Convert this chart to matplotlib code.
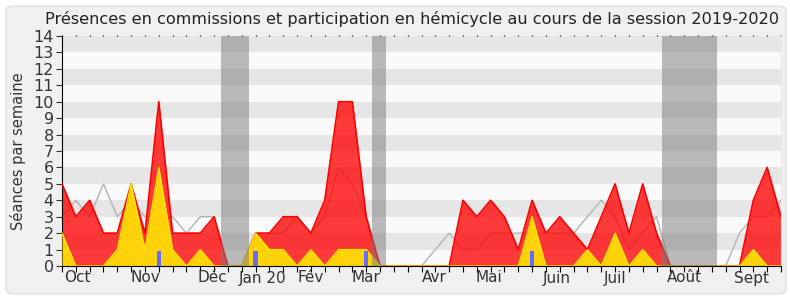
"""
    Présences hebdomadaires d'un député, session 2019-2020
"""

import matplotlib
matplotlib.use('Agg')
import matplotlib.pyplot as plt
from matplotlib.patches import FancyBboxPatch
import numpy as np


# one value per week, 53 weeks from end of Sept 2019
presences = [5, 3, 4, 2, 2, 5, 2, 10, 2, 2, 2, 3, 0, 0, 2, 2, 3, 3, 2, 4,
             10, 10, 3, 0, 0, 0, 0, 0, 0, 4, 3, 4, 3, 1, 4, 2, 3, 2, 1, 3,
             5, 2, 5, 2, 0, 0, 0, 0, 0, 0, 4, 6, 3]
hemicycle = [2, 0, 0, 0, 1, 5, 1, 6, 1, 0, 1, 0, 0, 0, 2, 1, 1, 0, 1, 0,
             1, 1, 1, 0, 0, 0, 0, 0, 0, 0, 0, 0, 0, 0, 3, 0, 0, 0, 1, 0,
             2, 0, 1, 0, 0, 0, 0, 0, 0, 0, 1, 0, 0]
mediane = [3, 4, 3, 5, 3, 4, 3, 3, 3, 2, 3, 3, 0, 0, 2, 2, 2, 3, 2, 3,
           6, 5, 3, 0, 0, 0, 0, 1, 2, 1, 1, 2, 2, 2, 2, 2, 2, 2, 3, 4,
           3, 1, 2, 3, 0, 0, 0, 0, 0, 2, 3, 3, 4]
questions_weeks = [7, 14, 22, 34]
questions_vals = [0.9, 0.9, 0.9, 0.9]

vacances = [(11.5, 13.5), (22.4, 23.4), (43.4, 47.4)]

mois = ['Oct', 'Nov', 'Déc', 'Jan 20', 'Fév', 'Mar', 'Avr', 'Mai',
        'Juin', 'Juil', 'Août', 'Sept']
mois_pos = [1.1, 6.05, 10.85, 14.5, 18.0, 22.0, 26.9, 30.9, 35.8, 40.0, 45.0, 49.9]

TITRE = 'Présences en commissions et participation en hémicycle au cours de la session 2019-2020'

plt.rcParams['font.family'] = ['DejaVu Sans']

weeks = np.arange(len(presences))

fig = plt.figure(figsize=(7.9, 3.0), dpi=100, facecolor='white')
fig.patches.append(FancyBboxPatch((6 / 790, 6 / 300), 780 / 790, 288 / 300,
                                  boxstyle='round,pad=0,rounding_size=0.012',
                                  transform=fig.transFigure, facecolor='#f0f0f0',
                                  edgecolor='#e2e2e2', lw=1, zorder=-10))

ax = fig.add_axes([62 / 790, 1 - 266 / 300, 719 / 790, 230 / 300])
ax.set_facecolor('#fafafa')

# horizontal stripes
for k in range(1, 14, 2):
    ax.axhspan(k, k + 1, color='#e6e6e6', lw=0, zorder=0)

ax.plot(weeks, mediane, color='#b4b4b4', lw=1, zorder=1)
ax.fill_between(weeks, presences, color='red', alpha=0.77, lw=0, zorder=2)
ax.plot(weeks, presences, color='red', lw=1.2, zorder=3)
ax.fill_between(weeks, hemicycle, color='#ffd30a', lw=0, zorder=4)
ax.plot(weeks, hemicycle, color='#ffe600', lw=1, zorder=5)
ax.bar(questions_weeks, questions_vals, width=0.32, color='#6a6aff', zorder=6)

for a, b in vacances:
    ax.axvspan(a, b, color='#7a7a7a', alpha=0.5, lw=0, zorder=7)

ax.set_xlim(0, 52)
ax.set_ylim(0, 14)

ax.set_yticks(range(15))
ax.tick_params(axis='y', direction='out', length=4, labelsize=11.5, colors='#333333',
               pad=2)
ax.set_xticks(weeks)
ax.set_xticklabels([])
ax.tick_params(axis='x', which='major', direction='out', length=4, color='black')

# little dots along the top
top = ax.secondary_xaxis('top')
top.set_xticks(weeks)
top.set_xticklabels([])
top.tick_params(length=1, width=0.9, color='black')
top.spines['top'].set_visible(False)

for pos, lab in zip(mois_pos, mois):
    ax.text(pos, -12 / 230, lab, transform=ax.get_xaxis_transform(),
            ha='center', va='center', fontsize=11, color='#333333')

ax.spines['right'].set_color('#e8e8e8')
ax.spines['top'].set_visible(False)
ax.spines['left'].set_color('black')
ax.spines['bottom'].set_color('black')
ax.spines['bottom'].set_zorder(8)

ax.set_ylabel('Séances par semaine', fontsize=10.5, color='#333333', labelpad=5)
fig.text(412 / 790, 1 - 19 / 300, TITRE, ha='center', va='center', fontsize=11.6,
         color='#222222')

fig.savefig('out.png', dpi=100)
